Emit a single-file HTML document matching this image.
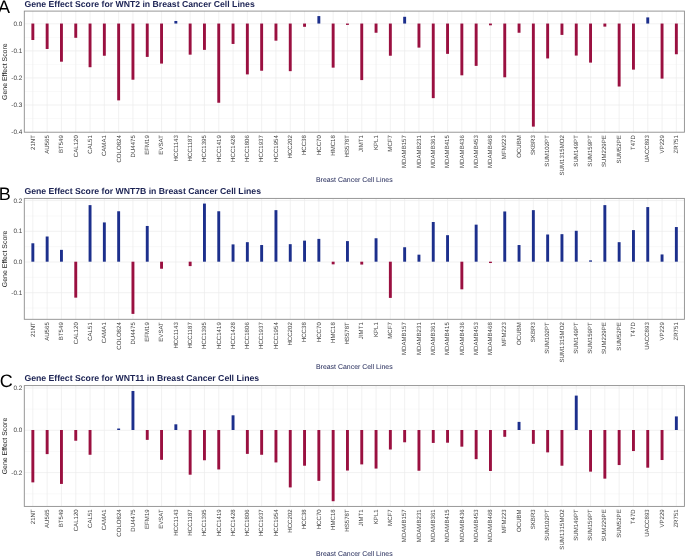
<!DOCTYPE html>
<html lang="en"><head><meta charset="utf-8"><title>Gene Effect Scores in Breast Cancer Cell Lines</title>
<style>
html,body{margin:0;padding:0;background:#fff;}
body{width:685px;height:556px;overflow:hidden;}
svg{display:block;font-family:"Liberation Sans",Arial,sans-serif;will-change:transform;text-rendering:geometricPrecision;}
.t{font-size:8.69px;font-weight:bold;fill:#1b2253;}
.l{font-size:18px;fill:#000;}
.yt{font-size:6.4px;fill:#464646;text-anchor:end;}
.xt{font-size:61px;fill:#464646;text-anchor:end;}
.ya{font-size:6.95px;fill:#1a1a1a;text-anchor:middle;}
.xa{font-size:6.95px;fill:#1b2253;text-anchor:middle;}
</style></head><body>
<svg width="685" height="556" viewBox="0 0 685 556">
<rect width="685" height="556" fill="#fff"/>
<g>
<line x1="24.3" x2="684.4" y1="37.38" y2="37.38" stroke="#f3f3f3" stroke-width="0.5"/>
<line x1="24.3" x2="684.4" y1="64.42" y2="64.42" stroke="#f3f3f3" stroke-width="0.5"/>
<line x1="24.3" x2="684.4" y1="91.47" y2="91.47" stroke="#f3f3f3" stroke-width="0.5"/>
<line x1="24.3" x2="684.4" y1="118.52" y2="118.52" stroke="#f3f3f3" stroke-width="0.5"/>
<line x1="24.3" x2="684.4" y1="23.85" y2="23.85" stroke="#ebebeb" stroke-width="0.7"/>
<line x1="24.3" x2="684.4" y1="50.90" y2="50.90" stroke="#ebebeb" stroke-width="0.7"/>
<line x1="24.3" x2="684.4" y1="77.95" y2="77.95" stroke="#ebebeb" stroke-width="0.7"/>
<line x1="24.3" x2="684.4" y1="105.00" y2="105.00" stroke="#ebebeb" stroke-width="0.7"/>
<line x1="32.85" x2="32.85" y1="11.1" y2="132.2" stroke="#ebebeb" stroke-width="0.7"/>
<line x1="47.15" x2="47.15" y1="11.1" y2="132.2" stroke="#ebebeb" stroke-width="0.7"/>
<line x1="61.45" x2="61.45" y1="11.1" y2="132.2" stroke="#ebebeb" stroke-width="0.7"/>
<line x1="75.75" x2="75.75" y1="11.1" y2="132.2" stroke="#ebebeb" stroke-width="0.7"/>
<line x1="90.05" x2="90.05" y1="11.1" y2="132.2" stroke="#ebebeb" stroke-width="0.7"/>
<line x1="104.35" x2="104.35" y1="11.1" y2="132.2" stroke="#ebebeb" stroke-width="0.7"/>
<line x1="118.65" x2="118.65" y1="11.1" y2="132.2" stroke="#ebebeb" stroke-width="0.7"/>
<line x1="132.95" x2="132.95" y1="11.1" y2="132.2" stroke="#ebebeb" stroke-width="0.7"/>
<line x1="147.25" x2="147.25" y1="11.1" y2="132.2" stroke="#ebebeb" stroke-width="0.7"/>
<line x1="161.55" x2="161.55" y1="11.1" y2="132.2" stroke="#ebebeb" stroke-width="0.7"/>
<line x1="175.85" x2="175.85" y1="11.1" y2="132.2" stroke="#ebebeb" stroke-width="0.7"/>
<line x1="190.15" x2="190.15" y1="11.1" y2="132.2" stroke="#ebebeb" stroke-width="0.7"/>
<line x1="204.45" x2="204.45" y1="11.1" y2="132.2" stroke="#ebebeb" stroke-width="0.7"/>
<line x1="218.75" x2="218.75" y1="11.1" y2="132.2" stroke="#ebebeb" stroke-width="0.7"/>
<line x1="233.05" x2="233.05" y1="11.1" y2="132.2" stroke="#ebebeb" stroke-width="0.7"/>
<line x1="247.35" x2="247.35" y1="11.1" y2="132.2" stroke="#ebebeb" stroke-width="0.7"/>
<line x1="261.65" x2="261.65" y1="11.1" y2="132.2" stroke="#ebebeb" stroke-width="0.7"/>
<line x1="275.95" x2="275.95" y1="11.1" y2="132.2" stroke="#ebebeb" stroke-width="0.7"/>
<line x1="290.25" x2="290.25" y1="11.1" y2="132.2" stroke="#ebebeb" stroke-width="0.7"/>
<line x1="304.55" x2="304.55" y1="11.1" y2="132.2" stroke="#ebebeb" stroke-width="0.7"/>
<line x1="318.85" x2="318.85" y1="11.1" y2="132.2" stroke="#ebebeb" stroke-width="0.7"/>
<line x1="333.15" x2="333.15" y1="11.1" y2="132.2" stroke="#ebebeb" stroke-width="0.7"/>
<line x1="347.45" x2="347.45" y1="11.1" y2="132.2" stroke="#ebebeb" stroke-width="0.7"/>
<line x1="361.75" x2="361.75" y1="11.1" y2="132.2" stroke="#ebebeb" stroke-width="0.7"/>
<line x1="376.05" x2="376.05" y1="11.1" y2="132.2" stroke="#ebebeb" stroke-width="0.7"/>
<line x1="390.35" x2="390.35" y1="11.1" y2="132.2" stroke="#ebebeb" stroke-width="0.7"/>
<line x1="404.65" x2="404.65" y1="11.1" y2="132.2" stroke="#ebebeb" stroke-width="0.7"/>
<line x1="418.95" x2="418.95" y1="11.1" y2="132.2" stroke="#ebebeb" stroke-width="0.7"/>
<line x1="433.25" x2="433.25" y1="11.1" y2="132.2" stroke="#ebebeb" stroke-width="0.7"/>
<line x1="447.55" x2="447.55" y1="11.1" y2="132.2" stroke="#ebebeb" stroke-width="0.7"/>
<line x1="461.85" x2="461.85" y1="11.1" y2="132.2" stroke="#ebebeb" stroke-width="0.7"/>
<line x1="476.15" x2="476.15" y1="11.1" y2="132.2" stroke="#ebebeb" stroke-width="0.7"/>
<line x1="490.45" x2="490.45" y1="11.1" y2="132.2" stroke="#ebebeb" stroke-width="0.7"/>
<line x1="504.75" x2="504.75" y1="11.1" y2="132.2" stroke="#ebebeb" stroke-width="0.7"/>
<line x1="519.05" x2="519.05" y1="11.1" y2="132.2" stroke="#ebebeb" stroke-width="0.7"/>
<line x1="533.35" x2="533.35" y1="11.1" y2="132.2" stroke="#ebebeb" stroke-width="0.7"/>
<line x1="547.65" x2="547.65" y1="11.1" y2="132.2" stroke="#ebebeb" stroke-width="0.7"/>
<line x1="561.95" x2="561.95" y1="11.1" y2="132.2" stroke="#ebebeb" stroke-width="0.7"/>
<line x1="576.25" x2="576.25" y1="11.1" y2="132.2" stroke="#ebebeb" stroke-width="0.7"/>
<line x1="590.55" x2="590.55" y1="11.1" y2="132.2" stroke="#ebebeb" stroke-width="0.7"/>
<line x1="604.85" x2="604.85" y1="11.1" y2="132.2" stroke="#ebebeb" stroke-width="0.7"/>
<line x1="619.15" x2="619.15" y1="11.1" y2="132.2" stroke="#ebebeb" stroke-width="0.7"/>
<line x1="633.45" x2="633.45" y1="11.1" y2="132.2" stroke="#ebebeb" stroke-width="0.7"/>
<line x1="647.75" x2="647.75" y1="11.1" y2="132.2" stroke="#ebebeb" stroke-width="0.7"/>
<line x1="662.05" x2="662.05" y1="11.1" y2="132.2" stroke="#ebebeb" stroke-width="0.7"/>
<line x1="676.35" x2="676.35" y1="11.1" y2="132.2" stroke="#ebebeb" stroke-width="0.7"/>
<rect x="31.40" y="23.55" width="2.9" height="16.45" fill="#9a1040"/>
<rect x="45.70" y="23.55" width="2.9" height="25.43" fill="#9a1040"/>
<rect x="60.00" y="23.55" width="2.9" height="38.14" fill="#9a1040"/>
<rect x="74.30" y="23.55" width="2.9" height="14.26" fill="#9a1040"/>
<rect x="88.60" y="23.55" width="2.9" height="43.66" fill="#9a1040"/>
<rect x="102.90" y="23.55" width="2.9" height="32.19" fill="#9a1040"/>
<rect x="117.20" y="23.55" width="2.9" height="76.82" fill="#9a1040"/>
<rect x="131.50" y="23.55" width="2.9" height="56.16" fill="#9a1040"/>
<rect x="145.80" y="23.55" width="2.9" height="33.35" fill="#9a1040"/>
<rect x="160.10" y="23.55" width="2.9" height="40.03" fill="#9a1040"/>
<rect x="174.40" y="20.98" width="2.9" height="2.57" fill="#1c2f8c"/>
<rect x="188.70" y="23.55" width="2.9" height="31.11" fill="#9a1040"/>
<rect x="203.00" y="23.55" width="2.9" height="26.32" fill="#9a1040"/>
<rect x="217.30" y="23.55" width="2.9" height="79.20" fill="#9a1040"/>
<rect x="231.60" y="23.55" width="2.9" height="20.40" fill="#9a1040"/>
<rect x="245.90" y="23.55" width="2.9" height="50.85" fill="#9a1040"/>
<rect x="260.20" y="23.55" width="2.9" height="47.18" fill="#9a1040"/>
<rect x="274.50" y="23.55" width="2.9" height="17.12" fill="#9a1040"/>
<rect x="288.80" y="23.55" width="2.9" height="47.61" fill="#9a1040"/>
<rect x="303.10" y="23.55" width="2.9" height="3.25" fill="#9a1040"/>
<rect x="317.40" y="16.08" width="2.9" height="7.47" fill="#1c2f8c"/>
<rect x="331.70" y="23.55" width="2.9" height="44.09" fill="#9a1040"/>
<rect x="346.00" y="23.55" width="2.9" height="1.35" fill="#9a1040"/>
<rect x="360.30" y="23.55" width="2.9" height="56.53" fill="#9a1040"/>
<rect x="374.60" y="23.55" width="2.9" height="9.20" fill="#9a1040"/>
<rect x="388.90" y="23.55" width="2.9" height="32.19" fill="#9a1040"/>
<rect x="403.20" y="16.79" width="2.9" height="6.76" fill="#1c2f8c"/>
<rect x="417.50" y="23.55" width="2.9" height="24.07" fill="#9a1040"/>
<rect x="431.80" y="23.55" width="2.9" height="74.58" fill="#9a1040"/>
<rect x="446.10" y="23.55" width="2.9" height="30.30" fill="#9a1040"/>
<rect x="460.40" y="23.55" width="2.9" height="51.77" fill="#9a1040"/>
<rect x="474.70" y="23.55" width="2.9" height="42.33" fill="#9a1040"/>
<rect x="489.00" y="23.55" width="2.9" height="1.76" fill="#9a1040"/>
<rect x="503.30" y="23.55" width="2.9" height="53.75" fill="#9a1040"/>
<rect x="517.60" y="23.55" width="2.9" height="9.20" fill="#9a1040"/>
<rect x="531.90" y="23.55" width="2.9" height="103.06" fill="#9a1040"/>
<rect x="546.20" y="23.55" width="2.9" height="34.89" fill="#9a1040"/>
<rect x="560.50" y="23.55" width="2.9" height="11.36" fill="#9a1040"/>
<rect x="574.80" y="23.55" width="2.9" height="32.03" fill="#9a1040"/>
<rect x="589.10" y="23.55" width="2.9" height="39.06" fill="#9a1040"/>
<rect x="603.40" y="23.55" width="2.9" height="3.08" fill="#9a1040"/>
<rect x="617.70" y="23.55" width="2.9" height="62.97" fill="#9a1040"/>
<rect x="632.00" y="23.55" width="2.9" height="46.07" fill="#9a1040"/>
<rect x="646.30" y="17.41" width="2.9" height="6.14" fill="#1c2f8c"/>
<rect x="660.60" y="23.55" width="2.9" height="55.07" fill="#9a1040"/>
<rect x="674.90" y="23.55" width="2.9" height="30.70" fill="#9a1040"/>
<rect x="24.3" y="11.1" width="660.10" height="121.10" fill="none" stroke="#8c8c8c" stroke-width="0.9"/>
<text class="yt" x="22.3" y="26.00">0.0</text>
<text class="yt" x="22.3" y="53.05">-0.1</text>
<text class="yt" x="22.3" y="80.10">-0.2</text>
<text class="yt" x="22.3" y="107.15">-0.3</text>
<text class="yt" x="22.3" y="134.20">-0.4</text>
<text class="xt" transform="translate(34.75,135.10) rotate(-90) scale(0.1)">21NT</text>
<text class="xt" transform="translate(49.04,135.10) rotate(-90) scale(0.1)">AU565</text>
<text class="xt" transform="translate(63.34,135.10) rotate(-90) scale(0.1)">BT549</text>
<text class="xt" transform="translate(77.63,135.10) rotate(-90) scale(0.1)">CAL120</text>
<text class="xt" transform="translate(91.92,135.10) rotate(-90) scale(0.1)">CAL51</text>
<text class="xt" transform="translate(106.22,135.10) rotate(-90) scale(0.1)">CAMA1</text>
<text class="xt" transform="translate(120.51,135.10) rotate(-90) scale(0.1)">COLO824</text>
<text class="xt" transform="translate(134.80,135.10) rotate(-90) scale(0.1)">DU4475</text>
<text class="xt" transform="translate(149.09,135.10) rotate(-90) scale(0.1)">EFM19</text>
<text class="xt" transform="translate(163.39,135.10) rotate(-90) scale(0.1)">EVSAT</text>
<text class="xt" transform="translate(177.68,135.10) rotate(-90) scale(0.1)">HCC1143</text>
<text class="xt" transform="translate(191.97,135.10) rotate(-90) scale(0.1)">HCC1187</text>
<text class="xt" transform="translate(206.27,135.10) rotate(-90) scale(0.1)">HCC1395</text>
<text class="xt" transform="translate(220.56,135.10) rotate(-90) scale(0.1)">HCC1419</text>
<text class="xt" transform="translate(234.85,135.10) rotate(-90) scale(0.1)">HCC1428</text>
<text class="xt" transform="translate(249.14,135.10) rotate(-90) scale(0.1)">HCC1806</text>
<text class="xt" transform="translate(263.44,135.10) rotate(-90) scale(0.1)">HCC1937</text>
<text class="xt" transform="translate(277.73,135.10) rotate(-90) scale(0.1)">HCC1954</text>
<text class="xt" transform="translate(292.02,135.10) rotate(-90) scale(0.1)">HCC202</text>
<text class="xt" transform="translate(306.32,135.10) rotate(-90) scale(0.1)">HCC38</text>
<text class="xt" transform="translate(320.61,135.10) rotate(-90) scale(0.1)">HCC70</text>
<text class="xt" transform="translate(334.90,135.10) rotate(-90) scale(0.1)">HMC18</text>
<text class="xt" transform="translate(349.20,135.10) rotate(-90) scale(0.1)">HS578T</text>
<text class="xt" transform="translate(363.49,135.10) rotate(-90) scale(0.1)">JIMT1</text>
<text class="xt" transform="translate(377.78,135.10) rotate(-90) scale(0.1)">KPL1</text>
<text class="xt" transform="translate(392.07,135.10) rotate(-90) scale(0.1)">MCF7</text>
<text class="xt" transform="translate(406.37,135.10) rotate(-90) scale(0.1)">MDAMB157</text>
<text class="xt" transform="translate(420.66,135.10) rotate(-90) scale(0.1)">MDAMB231</text>
<text class="xt" transform="translate(434.95,135.10) rotate(-90) scale(0.1)">MDAMB361</text>
<text class="xt" transform="translate(449.25,135.10) rotate(-90) scale(0.1)">MDAMB415</text>
<text class="xt" transform="translate(463.54,135.10) rotate(-90) scale(0.1)">MDAMB436</text>
<text class="xt" transform="translate(477.83,135.10) rotate(-90) scale(0.1)">MDAMB453</text>
<text class="xt" transform="translate(492.13,135.10) rotate(-90) scale(0.1)">MDAMB468</text>
<text class="xt" transform="translate(506.42,135.10) rotate(-90) scale(0.1)">MFM223</text>
<text class="xt" transform="translate(520.71,135.10) rotate(-90) scale(0.1)">OCUBM</text>
<text class="xt" transform="translate(535.00,135.10) rotate(-90) scale(0.1)">SKBR3</text>
<text class="xt" transform="translate(549.30,135.10) rotate(-90) scale(0.1)">SUM102PT</text>
<text class="xt" transform="translate(563.59,135.10) rotate(-90) scale(0.1)">SUM1315MO2</text>
<text class="xt" transform="translate(577.88,135.10) rotate(-90) scale(0.1)">SUM149PT</text>
<text class="xt" transform="translate(592.18,135.10) rotate(-90) scale(0.1)">SUM159PT</text>
<text class="xt" transform="translate(606.47,135.10) rotate(-90) scale(0.1)">SUM229PE</text>
<text class="xt" transform="translate(620.76,135.10) rotate(-90) scale(0.1)">SUM52PE</text>
<text class="xt" transform="translate(635.06,135.10) rotate(-90) scale(0.1)">T47D</text>
<text class="xt" transform="translate(649.35,135.10) rotate(-90) scale(0.1)">UACC893</text>
<text class="xt" transform="translate(663.64,135.10) rotate(-90) scale(0.1)">VP229</text>
<text class="xt" transform="translate(677.93,135.10) rotate(-90) scale(0.1)">ZR751</text>
<text class="ya" transform="translate(7.4,71.65) rotate(-90)">Gene Effect Score</text>
<text class="xa" x="354.35" y="181.6">Breast Cancer Cell Lines</text>
<text class="t" x="24.4" y="6.6">Gene Effect Score for WNT2 in Breast Cancer Cell Lines</text>
<text class="l" x="-2.0" y="13.1">A</text>
</g>
<g>
<line x1="24.3" x2="684.4" y1="215.95" y2="215.95" stroke="#f3f3f3" stroke-width="0.5"/>
<line x1="24.3" x2="684.4" y1="246.65" y2="246.65" stroke="#f3f3f3" stroke-width="0.5"/>
<line x1="24.3" x2="684.4" y1="277.35" y2="277.35" stroke="#f3f3f3" stroke-width="0.5"/>
<line x1="24.3" x2="684.4" y1="308.05" y2="308.05" stroke="#f3f3f3" stroke-width="0.5"/>
<line x1="24.3" x2="684.4" y1="200.60" y2="200.60" stroke="#ebebeb" stroke-width="0.7"/>
<line x1="24.3" x2="684.4" y1="231.30" y2="231.30" stroke="#ebebeb" stroke-width="0.7"/>
<line x1="24.3" x2="684.4" y1="262.00" y2="262.00" stroke="#ebebeb" stroke-width="0.7"/>
<line x1="24.3" x2="684.4" y1="292.70" y2="292.70" stroke="#ebebeb" stroke-width="0.7"/>
<line x1="32.85" x2="32.85" y1="198.4" y2="319.3" stroke="#ebebeb" stroke-width="0.7"/>
<line x1="47.15" x2="47.15" y1="198.4" y2="319.3" stroke="#ebebeb" stroke-width="0.7"/>
<line x1="61.45" x2="61.45" y1="198.4" y2="319.3" stroke="#ebebeb" stroke-width="0.7"/>
<line x1="75.75" x2="75.75" y1="198.4" y2="319.3" stroke="#ebebeb" stroke-width="0.7"/>
<line x1="90.05" x2="90.05" y1="198.4" y2="319.3" stroke="#ebebeb" stroke-width="0.7"/>
<line x1="104.35" x2="104.35" y1="198.4" y2="319.3" stroke="#ebebeb" stroke-width="0.7"/>
<line x1="118.65" x2="118.65" y1="198.4" y2="319.3" stroke="#ebebeb" stroke-width="0.7"/>
<line x1="132.95" x2="132.95" y1="198.4" y2="319.3" stroke="#ebebeb" stroke-width="0.7"/>
<line x1="147.25" x2="147.25" y1="198.4" y2="319.3" stroke="#ebebeb" stroke-width="0.7"/>
<line x1="161.55" x2="161.55" y1="198.4" y2="319.3" stroke="#ebebeb" stroke-width="0.7"/>
<line x1="175.85" x2="175.85" y1="198.4" y2="319.3" stroke="#ebebeb" stroke-width="0.7"/>
<line x1="190.15" x2="190.15" y1="198.4" y2="319.3" stroke="#ebebeb" stroke-width="0.7"/>
<line x1="204.45" x2="204.45" y1="198.4" y2="319.3" stroke="#ebebeb" stroke-width="0.7"/>
<line x1="218.75" x2="218.75" y1="198.4" y2="319.3" stroke="#ebebeb" stroke-width="0.7"/>
<line x1="233.05" x2="233.05" y1="198.4" y2="319.3" stroke="#ebebeb" stroke-width="0.7"/>
<line x1="247.35" x2="247.35" y1="198.4" y2="319.3" stroke="#ebebeb" stroke-width="0.7"/>
<line x1="261.65" x2="261.65" y1="198.4" y2="319.3" stroke="#ebebeb" stroke-width="0.7"/>
<line x1="275.95" x2="275.95" y1="198.4" y2="319.3" stroke="#ebebeb" stroke-width="0.7"/>
<line x1="290.25" x2="290.25" y1="198.4" y2="319.3" stroke="#ebebeb" stroke-width="0.7"/>
<line x1="304.55" x2="304.55" y1="198.4" y2="319.3" stroke="#ebebeb" stroke-width="0.7"/>
<line x1="318.85" x2="318.85" y1="198.4" y2="319.3" stroke="#ebebeb" stroke-width="0.7"/>
<line x1="333.15" x2="333.15" y1="198.4" y2="319.3" stroke="#ebebeb" stroke-width="0.7"/>
<line x1="347.45" x2="347.45" y1="198.4" y2="319.3" stroke="#ebebeb" stroke-width="0.7"/>
<line x1="361.75" x2="361.75" y1="198.4" y2="319.3" stroke="#ebebeb" stroke-width="0.7"/>
<line x1="376.05" x2="376.05" y1="198.4" y2="319.3" stroke="#ebebeb" stroke-width="0.7"/>
<line x1="390.35" x2="390.35" y1="198.4" y2="319.3" stroke="#ebebeb" stroke-width="0.7"/>
<line x1="404.65" x2="404.65" y1="198.4" y2="319.3" stroke="#ebebeb" stroke-width="0.7"/>
<line x1="418.95" x2="418.95" y1="198.4" y2="319.3" stroke="#ebebeb" stroke-width="0.7"/>
<line x1="433.25" x2="433.25" y1="198.4" y2="319.3" stroke="#ebebeb" stroke-width="0.7"/>
<line x1="447.55" x2="447.55" y1="198.4" y2="319.3" stroke="#ebebeb" stroke-width="0.7"/>
<line x1="461.85" x2="461.85" y1="198.4" y2="319.3" stroke="#ebebeb" stroke-width="0.7"/>
<line x1="476.15" x2="476.15" y1="198.4" y2="319.3" stroke="#ebebeb" stroke-width="0.7"/>
<line x1="490.45" x2="490.45" y1="198.4" y2="319.3" stroke="#ebebeb" stroke-width="0.7"/>
<line x1="504.75" x2="504.75" y1="198.4" y2="319.3" stroke="#ebebeb" stroke-width="0.7"/>
<line x1="519.05" x2="519.05" y1="198.4" y2="319.3" stroke="#ebebeb" stroke-width="0.7"/>
<line x1="533.35" x2="533.35" y1="198.4" y2="319.3" stroke="#ebebeb" stroke-width="0.7"/>
<line x1="547.65" x2="547.65" y1="198.4" y2="319.3" stroke="#ebebeb" stroke-width="0.7"/>
<line x1="561.95" x2="561.95" y1="198.4" y2="319.3" stroke="#ebebeb" stroke-width="0.7"/>
<line x1="576.25" x2="576.25" y1="198.4" y2="319.3" stroke="#ebebeb" stroke-width="0.7"/>
<line x1="590.55" x2="590.55" y1="198.4" y2="319.3" stroke="#ebebeb" stroke-width="0.7"/>
<line x1="604.85" x2="604.85" y1="198.4" y2="319.3" stroke="#ebebeb" stroke-width="0.7"/>
<line x1="619.15" x2="619.15" y1="198.4" y2="319.3" stroke="#ebebeb" stroke-width="0.7"/>
<line x1="633.45" x2="633.45" y1="198.4" y2="319.3" stroke="#ebebeb" stroke-width="0.7"/>
<line x1="647.75" x2="647.75" y1="198.4" y2="319.3" stroke="#ebebeb" stroke-width="0.7"/>
<line x1="662.05" x2="662.05" y1="198.4" y2="319.3" stroke="#ebebeb" stroke-width="0.7"/>
<line x1="676.35" x2="676.35" y1="198.4" y2="319.3" stroke="#ebebeb" stroke-width="0.7"/>
<rect x="31.40" y="243.28" width="2.9" height="18.42" fill="#1c2f8c"/>
<rect x="45.70" y="236.50" width="2.9" height="25.20" fill="#1c2f8c"/>
<rect x="60.00" y="249.85" width="2.9" height="11.85" fill="#1c2f8c"/>
<rect x="74.30" y="261.70" width="2.9" height="35.95" fill="#9a1040"/>
<rect x="88.60" y="205.12" width="2.9" height="56.58" fill="#1c2f8c"/>
<rect x="102.90" y="222.43" width="2.9" height="39.27" fill="#1c2f8c"/>
<rect x="117.20" y="211.26" width="2.9" height="50.44" fill="#1c2f8c"/>
<rect x="131.50" y="261.70" width="2.9" height="52.19" fill="#9a1040"/>
<rect x="145.80" y="225.97" width="2.9" height="35.73" fill="#1c2f8c"/>
<rect x="160.10" y="261.70" width="2.9" height="7.03" fill="#9a1040"/>
<rect x="188.70" y="261.70" width="2.9" height="4.39" fill="#9a1040"/>
<rect x="203.00" y="203.58" width="2.9" height="58.12" fill="#1c2f8c"/>
<rect x="217.30" y="211.26" width="2.9" height="50.44" fill="#1c2f8c"/>
<rect x="231.60" y="244.39" width="2.9" height="17.31" fill="#1c2f8c"/>
<rect x="245.90" y="242.17" width="2.9" height="19.53" fill="#1c2f8c"/>
<rect x="260.20" y="245.03" width="2.9" height="16.67" fill="#1c2f8c"/>
<rect x="274.50" y="210.15" width="2.9" height="51.55" fill="#1c2f8c"/>
<rect x="288.80" y="244.17" width="2.9" height="17.53" fill="#1c2f8c"/>
<rect x="303.10" y="240.64" width="2.9" height="21.06" fill="#1c2f8c"/>
<rect x="317.40" y="238.89" width="2.9" height="22.81" fill="#1c2f8c"/>
<rect x="331.70" y="261.70" width="2.9" height="2.64" fill="#9a1040"/>
<rect x="346.00" y="241.10" width="2.9" height="20.60" fill="#1c2f8c"/>
<rect x="360.30" y="261.70" width="2.9" height="2.86" fill="#9a1040"/>
<rect x="374.60" y="238.25" width="2.9" height="23.45" fill="#1c2f8c"/>
<rect x="388.90" y="261.70" width="2.9" height="36.20" fill="#9a1040"/>
<rect x="403.20" y="247.24" width="2.9" height="14.46" fill="#1c2f8c"/>
<rect x="417.50" y="254.67" width="2.9" height="7.03" fill="#1c2f8c"/>
<rect x="431.80" y="222.00" width="2.9" height="39.70" fill="#1c2f8c"/>
<rect x="446.10" y="235.18" width="2.9" height="26.52" fill="#1c2f8c"/>
<rect x="460.40" y="261.70" width="2.9" height="27.63" fill="#9a1040"/>
<rect x="474.70" y="224.65" width="2.9" height="37.05" fill="#1c2f8c"/>
<rect x="489.00" y="261.70" width="2.9" height="1.32" fill="#9a1040"/>
<rect x="503.30" y="211.47" width="2.9" height="50.23" fill="#1c2f8c"/>
<rect x="517.60" y="245.03" width="2.9" height="16.67" fill="#1c2f8c"/>
<rect x="531.90" y="210.15" width="2.9" height="51.55" fill="#1c2f8c"/>
<rect x="546.20" y="234.50" width="2.9" height="27.20" fill="#1c2f8c"/>
<rect x="560.50" y="234.16" width="2.9" height="27.54" fill="#1c2f8c"/>
<rect x="574.80" y="230.79" width="2.9" height="30.91" fill="#1c2f8c"/>
<rect x="589.10" y="260.38" width="2.9" height="1.32" fill="#1c2f8c"/>
<rect x="603.40" y="205.12" width="2.9" height="56.58" fill="#1c2f8c"/>
<rect x="617.70" y="242.17" width="2.9" height="19.53" fill="#1c2f8c"/>
<rect x="632.00" y="230.11" width="2.9" height="31.59" fill="#1c2f8c"/>
<rect x="646.30" y="207.08" width="2.9" height="54.62" fill="#1c2f8c"/>
<rect x="660.60" y="254.45" width="2.9" height="7.25" fill="#1c2f8c"/>
<rect x="674.90" y="227.04" width="2.9" height="34.66" fill="#1c2f8c"/>
<rect x="24.3" y="198.4" width="660.10" height="120.90" fill="none" stroke="#8c8c8c" stroke-width="0.9"/>
<text class="yt" x="22.3" y="202.75">0.2</text>
<text class="yt" x="22.3" y="233.45">0.1</text>
<text class="yt" x="22.3" y="264.15">0.0</text>
<text class="yt" x="22.3" y="294.85">-0.1</text>
<text class="xt" transform="translate(34.75,322.20) rotate(-90) scale(0.1)">21NT</text>
<text class="xt" transform="translate(49.04,322.20) rotate(-90) scale(0.1)">AU565</text>
<text class="xt" transform="translate(63.34,322.20) rotate(-90) scale(0.1)">BT549</text>
<text class="xt" transform="translate(77.63,322.20) rotate(-90) scale(0.1)">CAL120</text>
<text class="xt" transform="translate(91.92,322.20) rotate(-90) scale(0.1)">CAL51</text>
<text class="xt" transform="translate(106.22,322.20) rotate(-90) scale(0.1)">CAMA1</text>
<text class="xt" transform="translate(120.51,322.20) rotate(-90) scale(0.1)">COLO824</text>
<text class="xt" transform="translate(134.80,322.20) rotate(-90) scale(0.1)">DU4475</text>
<text class="xt" transform="translate(149.09,322.20) rotate(-90) scale(0.1)">EFM19</text>
<text class="xt" transform="translate(163.39,322.20) rotate(-90) scale(0.1)">EVSAT</text>
<text class="xt" transform="translate(177.68,322.20) rotate(-90) scale(0.1)">HCC1143</text>
<text class="xt" transform="translate(191.97,322.20) rotate(-90) scale(0.1)">HCC1187</text>
<text class="xt" transform="translate(206.27,322.20) rotate(-90) scale(0.1)">HCC1395</text>
<text class="xt" transform="translate(220.56,322.20) rotate(-90) scale(0.1)">HCC1419</text>
<text class="xt" transform="translate(234.85,322.20) rotate(-90) scale(0.1)">HCC1428</text>
<text class="xt" transform="translate(249.14,322.20) rotate(-90) scale(0.1)">HCC1806</text>
<text class="xt" transform="translate(263.44,322.20) rotate(-90) scale(0.1)">HCC1937</text>
<text class="xt" transform="translate(277.73,322.20) rotate(-90) scale(0.1)">HCC1954</text>
<text class="xt" transform="translate(292.02,322.20) rotate(-90) scale(0.1)">HCC202</text>
<text class="xt" transform="translate(306.32,322.20) rotate(-90) scale(0.1)">HCC38</text>
<text class="xt" transform="translate(320.61,322.20) rotate(-90) scale(0.1)">HCC70</text>
<text class="xt" transform="translate(334.90,322.20) rotate(-90) scale(0.1)">HMC18</text>
<text class="xt" transform="translate(349.20,322.20) rotate(-90) scale(0.1)">HS578T</text>
<text class="xt" transform="translate(363.49,322.20) rotate(-90) scale(0.1)">JIMT1</text>
<text class="xt" transform="translate(377.78,322.20) rotate(-90) scale(0.1)">KPL1</text>
<text class="xt" transform="translate(392.07,322.20) rotate(-90) scale(0.1)">MCF7</text>
<text class="xt" transform="translate(406.37,322.20) rotate(-90) scale(0.1)">MDAMB157</text>
<text class="xt" transform="translate(420.66,322.20) rotate(-90) scale(0.1)">MDAMB231</text>
<text class="xt" transform="translate(434.95,322.20) rotate(-90) scale(0.1)">MDAMB361</text>
<text class="xt" transform="translate(449.25,322.20) rotate(-90) scale(0.1)">MDAMB415</text>
<text class="xt" transform="translate(463.54,322.20) rotate(-90) scale(0.1)">MDAMB436</text>
<text class="xt" transform="translate(477.83,322.20) rotate(-90) scale(0.1)">MDAMB453</text>
<text class="xt" transform="translate(492.13,322.20) rotate(-90) scale(0.1)">MDAMB468</text>
<text class="xt" transform="translate(506.42,322.20) rotate(-90) scale(0.1)">MFM223</text>
<text class="xt" transform="translate(520.71,322.20) rotate(-90) scale(0.1)">OCUBM</text>
<text class="xt" transform="translate(535.00,322.20) rotate(-90) scale(0.1)">SKBR3</text>
<text class="xt" transform="translate(549.30,322.20) rotate(-90) scale(0.1)">SUM102PT</text>
<text class="xt" transform="translate(563.59,322.20) rotate(-90) scale(0.1)">SUM1315MO2</text>
<text class="xt" transform="translate(577.88,322.20) rotate(-90) scale(0.1)">SUM149PT</text>
<text class="xt" transform="translate(592.18,322.20) rotate(-90) scale(0.1)">SUM159PT</text>
<text class="xt" transform="translate(606.47,322.20) rotate(-90) scale(0.1)">SUM229PE</text>
<text class="xt" transform="translate(620.76,322.20) rotate(-90) scale(0.1)">SUM52PE</text>
<text class="xt" transform="translate(635.06,322.20) rotate(-90) scale(0.1)">T47D</text>
<text class="xt" transform="translate(649.35,322.20) rotate(-90) scale(0.1)">UACC893</text>
<text class="xt" transform="translate(663.64,322.20) rotate(-90) scale(0.1)">VP229</text>
<text class="xt" transform="translate(677.93,322.20) rotate(-90) scale(0.1)">ZR751</text>
<text class="ya" transform="translate(7.4,258.85) rotate(-90)">Gene Effect Score</text>
<text class="xa" x="354.35" y="369.0">Breast Cancer Cell Lines</text>
<text class="t" x="24.4" y="194.2">Gene Effect Score for WNT7B in Breast Cancer Cell Lines</text>
<text class="l" x="-1.3" y="199.6">B</text>
</g>
<g>
<line x1="24.3" x2="684.4" y1="409.13" y2="409.13" stroke="#f3f3f3" stroke-width="0.5"/>
<line x1="24.3" x2="684.4" y1="451.47" y2="451.47" stroke="#f3f3f3" stroke-width="0.5"/>
<line x1="24.3" x2="684.4" y1="493.81" y2="493.81" stroke="#f3f3f3" stroke-width="0.5"/>
<line x1="24.3" x2="684.4" y1="387.96" y2="387.96" stroke="#ebebeb" stroke-width="0.7"/>
<line x1="24.3" x2="684.4" y1="430.30" y2="430.30" stroke="#ebebeb" stroke-width="0.7"/>
<line x1="24.3" x2="684.4" y1="472.64" y2="472.64" stroke="#ebebeb" stroke-width="0.7"/>
<line x1="32.85" x2="32.85" y1="385.6" y2="506.4" stroke="#ebebeb" stroke-width="0.7"/>
<line x1="47.15" x2="47.15" y1="385.6" y2="506.4" stroke="#ebebeb" stroke-width="0.7"/>
<line x1="61.45" x2="61.45" y1="385.6" y2="506.4" stroke="#ebebeb" stroke-width="0.7"/>
<line x1="75.75" x2="75.75" y1="385.6" y2="506.4" stroke="#ebebeb" stroke-width="0.7"/>
<line x1="90.05" x2="90.05" y1="385.6" y2="506.4" stroke="#ebebeb" stroke-width="0.7"/>
<line x1="104.35" x2="104.35" y1="385.6" y2="506.4" stroke="#ebebeb" stroke-width="0.7"/>
<line x1="118.65" x2="118.65" y1="385.6" y2="506.4" stroke="#ebebeb" stroke-width="0.7"/>
<line x1="132.95" x2="132.95" y1="385.6" y2="506.4" stroke="#ebebeb" stroke-width="0.7"/>
<line x1="147.25" x2="147.25" y1="385.6" y2="506.4" stroke="#ebebeb" stroke-width="0.7"/>
<line x1="161.55" x2="161.55" y1="385.6" y2="506.4" stroke="#ebebeb" stroke-width="0.7"/>
<line x1="175.85" x2="175.85" y1="385.6" y2="506.4" stroke="#ebebeb" stroke-width="0.7"/>
<line x1="190.15" x2="190.15" y1="385.6" y2="506.4" stroke="#ebebeb" stroke-width="0.7"/>
<line x1="204.45" x2="204.45" y1="385.6" y2="506.4" stroke="#ebebeb" stroke-width="0.7"/>
<line x1="218.75" x2="218.75" y1="385.6" y2="506.4" stroke="#ebebeb" stroke-width="0.7"/>
<line x1="233.05" x2="233.05" y1="385.6" y2="506.4" stroke="#ebebeb" stroke-width="0.7"/>
<line x1="247.35" x2="247.35" y1="385.6" y2="506.4" stroke="#ebebeb" stroke-width="0.7"/>
<line x1="261.65" x2="261.65" y1="385.6" y2="506.4" stroke="#ebebeb" stroke-width="0.7"/>
<line x1="275.95" x2="275.95" y1="385.6" y2="506.4" stroke="#ebebeb" stroke-width="0.7"/>
<line x1="290.25" x2="290.25" y1="385.6" y2="506.4" stroke="#ebebeb" stroke-width="0.7"/>
<line x1="304.55" x2="304.55" y1="385.6" y2="506.4" stroke="#ebebeb" stroke-width="0.7"/>
<line x1="318.85" x2="318.85" y1="385.6" y2="506.4" stroke="#ebebeb" stroke-width="0.7"/>
<line x1="333.15" x2="333.15" y1="385.6" y2="506.4" stroke="#ebebeb" stroke-width="0.7"/>
<line x1="347.45" x2="347.45" y1="385.6" y2="506.4" stroke="#ebebeb" stroke-width="0.7"/>
<line x1="361.75" x2="361.75" y1="385.6" y2="506.4" stroke="#ebebeb" stroke-width="0.7"/>
<line x1="376.05" x2="376.05" y1="385.6" y2="506.4" stroke="#ebebeb" stroke-width="0.7"/>
<line x1="390.35" x2="390.35" y1="385.6" y2="506.4" stroke="#ebebeb" stroke-width="0.7"/>
<line x1="404.65" x2="404.65" y1="385.6" y2="506.4" stroke="#ebebeb" stroke-width="0.7"/>
<line x1="418.95" x2="418.95" y1="385.6" y2="506.4" stroke="#ebebeb" stroke-width="0.7"/>
<line x1="433.25" x2="433.25" y1="385.6" y2="506.4" stroke="#ebebeb" stroke-width="0.7"/>
<line x1="447.55" x2="447.55" y1="385.6" y2="506.4" stroke="#ebebeb" stroke-width="0.7"/>
<line x1="461.85" x2="461.85" y1="385.6" y2="506.4" stroke="#ebebeb" stroke-width="0.7"/>
<line x1="476.15" x2="476.15" y1="385.6" y2="506.4" stroke="#ebebeb" stroke-width="0.7"/>
<line x1="490.45" x2="490.45" y1="385.6" y2="506.4" stroke="#ebebeb" stroke-width="0.7"/>
<line x1="504.75" x2="504.75" y1="385.6" y2="506.4" stroke="#ebebeb" stroke-width="0.7"/>
<line x1="519.05" x2="519.05" y1="385.6" y2="506.4" stroke="#ebebeb" stroke-width="0.7"/>
<line x1="533.35" x2="533.35" y1="385.6" y2="506.4" stroke="#ebebeb" stroke-width="0.7"/>
<line x1="547.65" x2="547.65" y1="385.6" y2="506.4" stroke="#ebebeb" stroke-width="0.7"/>
<line x1="561.95" x2="561.95" y1="385.6" y2="506.4" stroke="#ebebeb" stroke-width="0.7"/>
<line x1="576.25" x2="576.25" y1="385.6" y2="506.4" stroke="#ebebeb" stroke-width="0.7"/>
<line x1="590.55" x2="590.55" y1="385.6" y2="506.4" stroke="#ebebeb" stroke-width="0.7"/>
<line x1="604.85" x2="604.85" y1="385.6" y2="506.4" stroke="#ebebeb" stroke-width="0.7"/>
<line x1="619.15" x2="619.15" y1="385.6" y2="506.4" stroke="#ebebeb" stroke-width="0.7"/>
<line x1="633.45" x2="633.45" y1="385.6" y2="506.4" stroke="#ebebeb" stroke-width="0.7"/>
<line x1="647.75" x2="647.75" y1="385.6" y2="506.4" stroke="#ebebeb" stroke-width="0.7"/>
<line x1="662.05" x2="662.05" y1="385.6" y2="506.4" stroke="#ebebeb" stroke-width="0.7"/>
<line x1="676.35" x2="676.35" y1="385.6" y2="506.4" stroke="#ebebeb" stroke-width="0.7"/>
<rect x="31.40" y="430.00" width="2.9" height="52.37" fill="#9a1040"/>
<rect x="45.70" y="430.00" width="2.9" height="24.11" fill="#9a1040"/>
<rect x="60.00" y="430.00" width="2.9" height="53.92" fill="#9a1040"/>
<rect x="74.30" y="430.00" width="2.9" height="10.73" fill="#9a1040"/>
<rect x="88.60" y="430.00" width="2.9" height="24.77" fill="#9a1040"/>
<rect x="117.20" y="428.52" width="2.9" height="1.48" fill="#1c2f8c"/>
<rect x="131.50" y="390.98" width="2.9" height="39.02" fill="#1c2f8c"/>
<rect x="145.80" y="430.00" width="2.9" height="9.87" fill="#9a1040"/>
<rect x="160.10" y="430.00" width="2.9" height="29.81" fill="#9a1040"/>
<rect x="174.40" y="424.31" width="2.9" height="5.69" fill="#1c2f8c"/>
<rect x="188.70" y="430.00" width="2.9" height="44.71" fill="#9a1040"/>
<rect x="203.00" y="430.00" width="2.9" height="30.25" fill="#9a1040"/>
<rect x="217.30" y="430.00" width="2.9" height="39.44" fill="#9a1040"/>
<rect x="231.60" y="415.31" width="2.9" height="14.69" fill="#1c2f8c"/>
<rect x="245.90" y="430.00" width="2.9" height="23.88" fill="#9a1040"/>
<rect x="260.20" y="430.00" width="2.9" height="24.77" fill="#9a1040"/>
<rect x="274.50" y="430.00" width="2.9" height="32.43" fill="#9a1040"/>
<rect x="288.80" y="430.00" width="2.9" height="57.41" fill="#9a1040"/>
<rect x="303.10" y="430.00" width="2.9" height="35.71" fill="#9a1040"/>
<rect x="317.40" y="430.00" width="2.9" height="50.85" fill="#9a1040"/>
<rect x="331.70" y="430.00" width="2.9" height="71.22" fill="#9a1040"/>
<rect x="346.00" y="430.00" width="2.9" height="40.54" fill="#9a1040"/>
<rect x="360.30" y="430.00" width="2.9" height="34.40" fill="#9a1040"/>
<rect x="374.60" y="430.00" width="2.9" height="38.57" fill="#9a1040"/>
<rect x="388.90" y="430.00" width="2.9" height="19.50" fill="#9a1040"/>
<rect x="403.20" y="430.00" width="2.9" height="12.28" fill="#9a1040"/>
<rect x="417.50" y="430.00" width="2.9" height="40.75" fill="#9a1040"/>
<rect x="431.80" y="430.00" width="2.9" height="12.93" fill="#9a1040"/>
<rect x="446.10" y="430.00" width="2.9" height="12.70" fill="#9a1040"/>
<rect x="460.40" y="430.00" width="2.9" height="16.66" fill="#9a1040"/>
<rect x="474.70" y="430.00" width="2.9" height="29.15" fill="#9a1040"/>
<rect x="489.00" y="430.00" width="2.9" height="40.99" fill="#9a1040"/>
<rect x="503.30" y="430.00" width="2.9" height="6.80" fill="#9a1040"/>
<rect x="517.60" y="421.89" width="2.9" height="8.11" fill="#1c2f8c"/>
<rect x="531.90" y="430.00" width="2.9" height="13.80" fill="#9a1040"/>
<rect x="546.20" y="430.00" width="2.9" height="22.36" fill="#9a1040"/>
<rect x="560.50" y="430.00" width="2.9" height="35.71" fill="#9a1040"/>
<rect x="574.80" y="395.60" width="2.9" height="34.40" fill="#1c2f8c"/>
<rect x="589.10" y="430.00" width="2.9" height="41.64" fill="#9a1040"/>
<rect x="603.40" y="430.00" width="2.9" height="48.65" fill="#9a1040"/>
<rect x="617.70" y="430.00" width="2.9" height="35.06" fill="#9a1040"/>
<rect x="632.00" y="430.00" width="2.9" height="21.04" fill="#9a1040"/>
<rect x="646.30" y="430.00" width="2.9" height="37.68" fill="#9a1040"/>
<rect x="660.60" y="430.00" width="2.9" height="30.02" fill="#9a1040"/>
<rect x="674.90" y="416.41" width="2.9" height="13.59" fill="#1c2f8c"/>
<rect x="24.3" y="385.6" width="660.10" height="120.80" fill="none" stroke="#8c8c8c" stroke-width="0.9"/>
<text class="yt" x="22.3" y="390.11">0.2</text>
<text class="yt" x="22.3" y="432.45">0.0</text>
<text class="yt" x="22.3" y="474.79">-0.2</text>
<text class="xt" transform="translate(34.75,509.30) rotate(-90) scale(0.1)">21NT</text>
<text class="xt" transform="translate(49.04,509.30) rotate(-90) scale(0.1)">AU565</text>
<text class="xt" transform="translate(63.34,509.30) rotate(-90) scale(0.1)">BT549</text>
<text class="xt" transform="translate(77.63,509.30) rotate(-90) scale(0.1)">CAL120</text>
<text class="xt" transform="translate(91.92,509.30) rotate(-90) scale(0.1)">CAL51</text>
<text class="xt" transform="translate(106.22,509.30) rotate(-90) scale(0.1)">CAMA1</text>
<text class="xt" transform="translate(120.51,509.30) rotate(-90) scale(0.1)">COLO824</text>
<text class="xt" transform="translate(134.80,509.30) rotate(-90) scale(0.1)">DU4475</text>
<text class="xt" transform="translate(149.09,509.30) rotate(-90) scale(0.1)">EFM19</text>
<text class="xt" transform="translate(163.39,509.30) rotate(-90) scale(0.1)">EVSAT</text>
<text class="xt" transform="translate(177.68,509.30) rotate(-90) scale(0.1)">HCC1143</text>
<text class="xt" transform="translate(191.97,509.30) rotate(-90) scale(0.1)">HCC1187</text>
<text class="xt" transform="translate(206.27,509.30) rotate(-90) scale(0.1)">HCC1395</text>
<text class="xt" transform="translate(220.56,509.30) rotate(-90) scale(0.1)">HCC1419</text>
<text class="xt" transform="translate(234.85,509.30) rotate(-90) scale(0.1)">HCC1428</text>
<text class="xt" transform="translate(249.14,509.30) rotate(-90) scale(0.1)">HCC1806</text>
<text class="xt" transform="translate(263.44,509.30) rotate(-90) scale(0.1)">HCC1937</text>
<text class="xt" transform="translate(277.73,509.30) rotate(-90) scale(0.1)">HCC1954</text>
<text class="xt" transform="translate(292.02,509.30) rotate(-90) scale(0.1)">HCC202</text>
<text class="xt" transform="translate(306.32,509.30) rotate(-90) scale(0.1)">HCC38</text>
<text class="xt" transform="translate(320.61,509.30) rotate(-90) scale(0.1)">HCC70</text>
<text class="xt" transform="translate(334.90,509.30) rotate(-90) scale(0.1)">HMC18</text>
<text class="xt" transform="translate(349.20,509.30) rotate(-90) scale(0.1)">HS578T</text>
<text class="xt" transform="translate(363.49,509.30) rotate(-90) scale(0.1)">JIMT1</text>
<text class="xt" transform="translate(377.78,509.30) rotate(-90) scale(0.1)">KPL1</text>
<text class="xt" transform="translate(392.07,509.30) rotate(-90) scale(0.1)">MCF7</text>
<text class="xt" transform="translate(406.37,509.30) rotate(-90) scale(0.1)">MDAMB157</text>
<text class="xt" transform="translate(420.66,509.30) rotate(-90) scale(0.1)">MDAMB231</text>
<text class="xt" transform="translate(434.95,509.30) rotate(-90) scale(0.1)">MDAMB361</text>
<text class="xt" transform="translate(449.25,509.30) rotate(-90) scale(0.1)">MDAMB415</text>
<text class="xt" transform="translate(463.54,509.30) rotate(-90) scale(0.1)">MDAMB436</text>
<text class="xt" transform="translate(477.83,509.30) rotate(-90) scale(0.1)">MDAMB453</text>
<text class="xt" transform="translate(492.13,509.30) rotate(-90) scale(0.1)">MDAMB468</text>
<text class="xt" transform="translate(506.42,509.30) rotate(-90) scale(0.1)">MFM223</text>
<text class="xt" transform="translate(520.71,509.30) rotate(-90) scale(0.1)">OCUBM</text>
<text class="xt" transform="translate(535.00,509.30) rotate(-90) scale(0.1)">SKBR3</text>
<text class="xt" transform="translate(549.30,509.30) rotate(-90) scale(0.1)">SUM102PT</text>
<text class="xt" transform="translate(563.59,509.30) rotate(-90) scale(0.1)">SUM1315MO2</text>
<text class="xt" transform="translate(577.88,509.30) rotate(-90) scale(0.1)">SUM149PT</text>
<text class="xt" transform="translate(592.18,509.30) rotate(-90) scale(0.1)">SUM159PT</text>
<text class="xt" transform="translate(606.47,509.30) rotate(-90) scale(0.1)">SUM229PE</text>
<text class="xt" transform="translate(620.76,509.30) rotate(-90) scale(0.1)">SUM52PE</text>
<text class="xt" transform="translate(635.06,509.30) rotate(-90) scale(0.1)">T47D</text>
<text class="xt" transform="translate(649.35,509.30) rotate(-90) scale(0.1)">UACC893</text>
<text class="xt" transform="translate(663.64,509.30) rotate(-90) scale(0.1)">VP229</text>
<text class="xt" transform="translate(677.93,509.30) rotate(-90) scale(0.1)">ZR751</text>
<text class="ya" transform="translate(7.4,446.00) rotate(-90)">Gene Effect Score</text>
<text class="xa" x="354.35" y="556.0">Breast Cancer Cell Lines</text>
<text class="t" x="24.4" y="380.7">Gene Effect Score for WNT11 in Breast Cancer Cell Lines</text>
<text class="l" x="-0.2" y="386.9">C</text>
</g>
</svg></body></html>
